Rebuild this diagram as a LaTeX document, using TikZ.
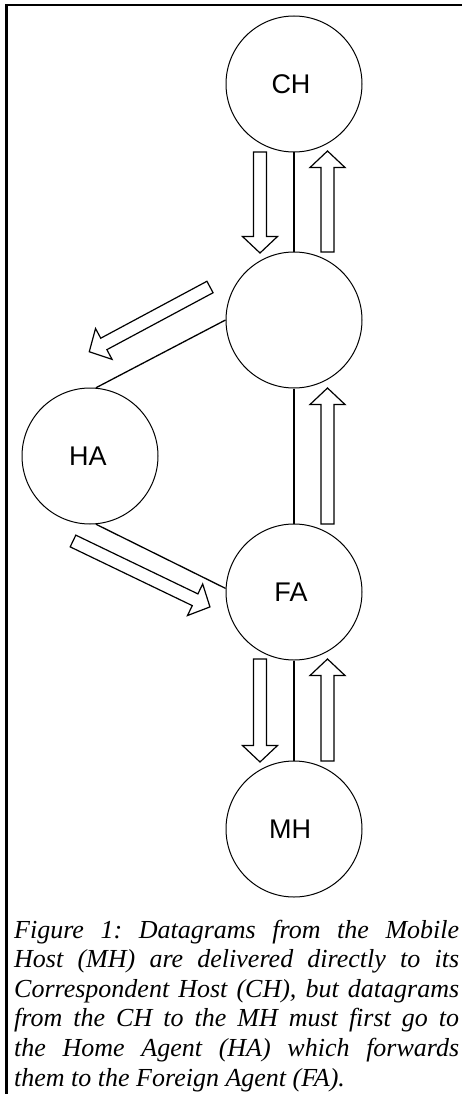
\documentclass[tikz,border=0pt]{standalone}
\usepackage{fontspec}
\setmainfont{Liberation Serif}
\newfontfamily\labfont{Liberation Sans}
\frenchspacing
\tikzset{
  host/.style={circle, draw=black, line width=1pt, minimum size=136pt, inner sep=0pt,
               font=\labfont\fontsize{27}{30}\selectfont},
  link/.style={draw=black, line width=1.3pt},
  blockarrow/.style={draw=black, line width=1.2pt, fill=white, line join=miter},
  capline/.style={anchor=base west, inner sep=0pt, font=\fontsize{26}{30}\selectfont\itshape},
  frame/.style={draw=black}
}
\newcommand{\blkarrow}[4]{%
  \begin{scope}[shift={(#1,#2)},rotate=#3]
    \draw[blockarrow] (0,-6.5) -- ({#4-16.5},-6.5) -- ({#4-16.5},-17.5) -- (#4,0)
      -- ({#4-16.5},17.5) -- ({#4-16.5},6.5) -- (0,6.5) -- cycle;
  \end{scope}}
\begin{document}
\begin{tikzpicture}[x=1pt,y=-1pt]
  \useasboundingbox (0,0) rectangle (462,1094);
  % frame (top and left only)
  \draw[frame, line width=3pt] (6.5,1094) -- (6.5,4.3);
  \draw[frame, line width=2pt] (5,5.3) -- (462,5.3);
  % hosts
  \node[host] (CH) at (294,84) {\hspace*{-6pt}CH};
  \node[host] (R)  at (294,320) {};
  \node[host] (HA) at (90,456) {\hspace*{-4pt}HA};
  \node[host] (FA) at (294,592) {\hspace*{-6pt}FA};
  \node[host] (MH) at (294,829) {\hspace*{-8pt}MH};
  % links
  \draw[link] (CH.south) -- (R.north);
  \draw[link] (R.south) -- (FA.north);
  \draw[link] (FA.south) -- (MH.north);
  \draw[link] (R.west) -- (HA.85);
  \draw[link] (HA.-85) -- (FA.177);
  % block arrows
  \blkarrow{260}{152}{-90}{101}
  \blkarrow{327.5}{252}{90}{101}
  \blkarrow{327.5}{524}{90}{136}
  \blkarrow{260}{659}{-90}{103}
  \blkarrow{327.5}{761}{90}{102}
  \blkarrow{210}{287}{208.2}{137}
  \blkarrow{73}{541}{-25.7}{152}
  % caption
  \node[capline] (c1) at (14,938)    {\makebox[445pt][s]{Figure 1: Datagrams from the Mobile}};
  \node[capline] (c2) at (14,967.6)  {\makebox[445pt][s]{Host (MH) are delivered directly to its}};
  \node[capline] (c3) at (14,997.2)  {\makebox[445pt][s]{Correspondent Host (CH), but datagrams}};
  \node[capline] (c4) at (14,1026.8) {\makebox[445pt][s]{from the CH to the MH must first go to}};
  \node[capline] (c5) at (14,1056.4) {\makebox[445pt][s]{the Home Agent (HA) which forwards}};
  \node[capline] (c6) at (14,1086)   {them to the Foreign Agent (FA).};
\end{tikzpicture}
\end{document}
